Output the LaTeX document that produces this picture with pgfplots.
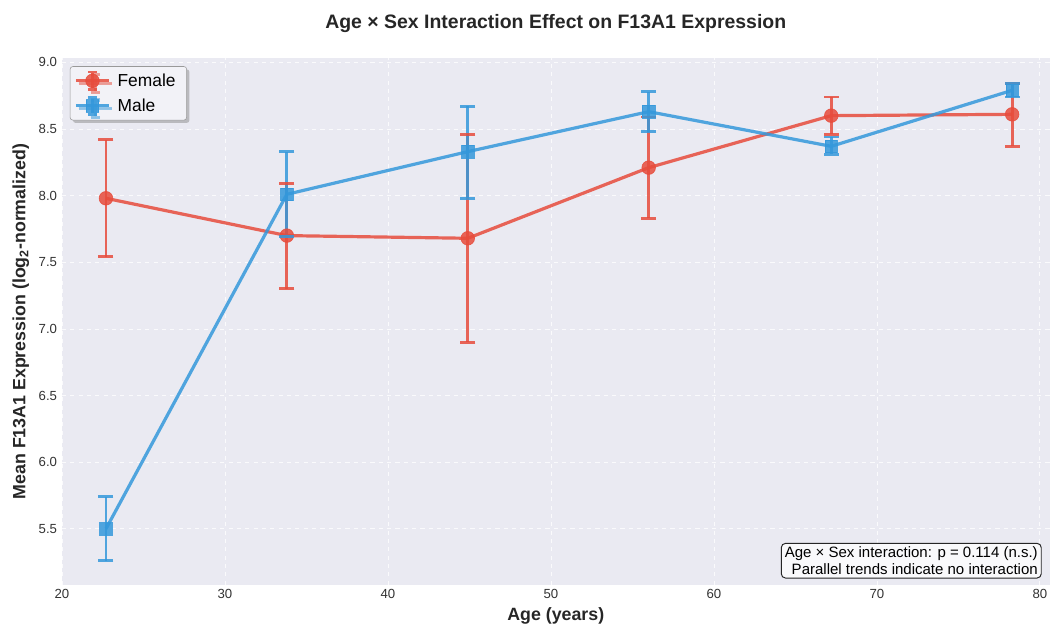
\documentclass[border=0pt]{standalone}
\usepackage{fontspec}
\setmainfont{Liberation Sans}
\usepackage{pgfplots}
\pgfplotsset{compat=1.18}
\usetikzlibrary{shadows}
\definecolor{fem}{HTML}{E74C3C}
\definecolor{mal}{HTML}{3498DB}
\definecolor{bg}{HTML}{EAEAF2}
% error bar ends (x, y), segments separated by nan rows
\pgfplotstableread{
x y
22.7 7.54
22.7 8.42
nan nan
33.8 7.30
33.8 8.09
nan nan
44.9 6.90
44.9 8.46
nan nan
56.0 7.83
56.0 8.59
nan nan
67.2 8.46
67.2 8.74
nan nan
78.3 8.37
78.3 8.84
}\femerr
\pgfplotstableread{
x y
22.7 5.26
22.7 5.74
nan nan
33.8 7.69
33.8 8.33
nan nan
44.9 7.98
44.9 8.67
nan nan
56.0 8.48
56.0 8.78
nan nan
67.2 8.31
67.2 8.44
nan nan
78.3 8.74
78.3 8.84
}\malerr
\pgfplotstableread{
x y
22.7 7.98
33.8 7.70
44.9 7.68
56.0 8.21
67.2 8.60
78.3 8.61
}\femdata
\pgfplotstableread{
x y
22.7 5.50
33.8 8.01
44.9 8.33
56.0 8.63
67.2 8.37
78.3 8.79
}\maldata
\begin{document}
\begin{tikzpicture}
\path[use as bounding box] (-44.6pt,-30pt) rectangle (712pt,421pt);
\begin{axis}[
  at={(0,0)}, anchor=south west,
  width=711pt, height=379pt, scale only axis,
  xmin=20, xmax=80.6, ymin=5.08, ymax=9.03,
  axis background/.style={fill=bg},
  axis line style={draw=none},
  major tick length=0pt,
  xtick={20,30,...,80}, ytick={5.5,6.0,...,9.0},
  yticklabel style={/pgf/number format/fixed,/pgf/number format/fixed zerofill,/pgf/number format/precision=1},
  /pgf/number format/assume math mode=true,
  tick label style={font=\fontsize{9.5}{11}\selectfont, color=black!80},
  grid=major, grid style={white!75!bg, dashed, line width=0.5pt},
  xlabel={\bfseries Age (years)},
  ylabel={\bfseries Mean F13A1 Expression (log\textsubscript{2}-normalized)},
  label style={font=\fontsize{12.8}{14}\selectfont, color=black!85},
  xlabel style={yshift=1pt},
  title={\bfseries Age × Sex Interaction Effect on F13A1 Expression},
  title style={font=\fontsize{14}{16}\selectfont, color=black!85, yshift=9pt},
  unbounded coords=jump,
  legend style={font=\fontsize{12.5}{15}\selectfont, fill=bg!60!white, draw=black!40, rounded corners=2pt, drop shadow={shadow xshift=2pt, shadow yshift=-2pt, fill=black!45}, at={(0.008,0.985)}, anchor=north west, row sep=3.5pt, inner sep=3pt, nodes={inner xsep=5pt}},
  legend cell align=left,
  legend image code/.code={
    \draw[#1, mark=none, line width=2pt] (0.42cm,-0.22cm) -- (0.42cm,0.22cm) (0.3cm,0.22cm)--(0.54cm,0.22cm) (0.3cm,-0.22cm)--(0.54cm,-0.22cm);
    \draw[mark repeat=2,mark phase=2,#1] plot coordinates {(0cm,0cm) (0.42cm,0cm) (0.84cm,0cm)};
  },
]
% Female
\addplot[fem, line width=2.1pt, opacity=0.85, forget plot] table[x=x,y=y] {\femerr};
\addplot[fem, opacity=0.85, only marks, mark=-, mark size=5.4pt, mark options={line width=2.1pt}, forget plot] table[x=x,y=y] {\femerr};
\addplot[color=fem, line width=2.3pt, opacity=0.85, mark=*, mark size=4.9pt, mark options={fill=fem, draw=fem, line width=0.5pt}] table[x=x,y=y] {\femdata};
\addlegendentry{Female}
% Male
\addplot[mal, line width=2.1pt, opacity=0.85, forget plot] table[x=x,y=y] {\malerr};
\addplot[mal, opacity=0.85, only marks, mark=-, mark size=5.4pt, mark options={line width=2.1pt}, forget plot] table[x=x,y=y] {\malerr};
\addplot[color=mal, line width=2.3pt, opacity=0.85, mark=square*, mark size=4.5pt, mark options={fill=mal, draw=mal, line width=0.5pt}] table[x=x,y=y] {\maldata};
\addlegendentry{Male}
\node[draw=black!85, fill=white!70!bg, rounded corners=3pt, align=right, anchor=south east, inner sep=2.5pt,
  font=\fontsize{10.8}{12}\selectfont, line width=0.7pt]
  at (rel axis cs:0.992,0.012) {Age × Sex interaction: p = 0.114 (n.s.)\\Parallel trends indicate no interaction};
\end{axis}
\end{tikzpicture}
\end{document}
